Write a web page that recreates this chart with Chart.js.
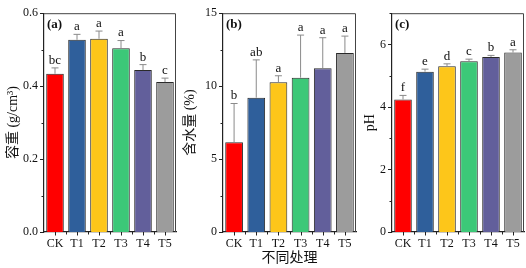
<!DOCTYPE html>
<html><head><meta charset="utf-8">
<script src="https://cdn.jsdelivr.net/npm/chart.js@4.4.1/dist/chart.umd.min.js"></script>
<style>
html,body{margin:0;padding:0;background:#fff;}
#wrap{position:relative;width:526px;height:268px;overflow:hidden;}
canvas{position:absolute;top:0;}
</style></head>
<body><div id="wrap">
<canvas id="ca" width="178" height="268" style="left:0px"></canvas>
<canvas id="cb" width="180" height="268" style="left:178px"></canvas>
<canvas id="cc" width="168" height="268" style="left:358px"></canvas>
</div>
<script>
const categories = ['CK','T1','T2','T3','T4','T5'];
const barColors = ['#ff0000','#2f5f9b','#fdc61a','#3cc878','#625f9b','#9c9c9c'];

const bulkDensity = [0.434,0.527,0.530,0.504,0.444,0.411];
const bulkDensityErr = [0.016,0.015,0.021,0.021,0.015,0.011];
const bulkLetters = ['bc','a','a','a','b','c'];
const bulkTicks = [0,0.2,0.4,0.6];

const moisture = [6.16,9.21,10.27,10.58,11.22,12.28];
const moistureErr = [2.65,2.59,0.44,2.92,2.10,1.15];
const moistureLetters = ['b','ab','a','a','a','a'];
const moistureTicks = [0,5,10,15];

const ph = [4.24,5.13,5.30,5.46,5.60,5.74];
const phErr = [0.13,0.08,0.08,0.07,0.05,0.09];
const phLetters = ['f','e','d','c','b','a'];
const phTicks = [0,2,4,6];

const SERIF = "'Liberation Serif','Noto Sans CJK SC',serif";

const decor = {
  id:'decor',
  afterDatasetsDraw(chart, args, opts){
    const ctx = chart.ctx, a = chart.chartArea;
    const xs = chart.scales.x, ys = chart.scales.y;
    ctx.save();
    ctx.strokeStyle = '#8a8a8a'; ctx.lineWidth = 1;
    const vals = chart.data.datasets[0].data;
    vals.forEach((v,i)=>{
      const x = xs.getPixelForValue(i);
      const y0 = ys.getPixelForValue(v);
      const y1 = ys.getPixelForValue(v + opts.err[i]);
      ctx.beginPath();
      ctx.moveTo(x, y0); ctx.lineTo(x, y1);
      ctx.moveTo(x-3.5, y1); ctx.lineTo(x+3.5, y1);
      ctx.stroke();
      ctx.fillStyle = '#111';
      ctx.font = "13px " + SERIF;
      ctx.textAlign = 'center'; ctx.textBaseline = 'bottom';
      ctx.fillText(opts.letters[i], x, y1 - 1);
    });
    ctx.strokeStyle = '#444'; ctx.lineWidth = 1;
    ctx.beginPath();
    ctx.moveTo(a.left, a.top+0.5); ctx.lineTo(a.right-0.5, a.top+0.5); ctx.lineTo(a.right-0.5, a.bottom);
    ctx.stroke();
    ctx.strokeStyle = '#222'; ctx.lineWidth = 1;
    ctx.beginPath();
    const tk = opts.ticks;
    const step = tk[1]-tk[0];
    for (let k=0;k<tk.length;k++){
      const y = Math.round(ys.getPixelForValue(tk[k]))+0.5;
      ctx.moveTo(a.left-4, y); ctx.lineTo(a.left, y);
      if (k < tk.length-1){
        const ym = Math.round(ys.getPixelForValue(tk[k]+step/2))+0.5;
        ctx.moveTo(a.left-2.5, ym); ctx.lineTo(a.left, ym);
      }
    }
    if (opts.top > tk[tk.length-1]) {
      const ym = Math.round(ys.getPixelForValue(tk[tk.length-1]+step/2))+0.5;
      ctx.moveTo(a.left-2.5, ym); ctx.lineTo(a.left, ym);
    }
    for (let i=0;i<vals.length;i++){
      const x = Math.round(xs.getPixelForValue(i))+0.5;
      ctx.moveTo(x, a.bottom); ctx.lineTo(x, a.bottom+3.5);
      const xb = Math.round(xs.getPixelForValue(i-0.5))+0.5;
      if (i>0){ ctx.moveTo(xb, a.bottom); ctx.lineTo(xb, a.bottom+2.5); }
    }
    ctx.stroke();
    ctx.fillStyle = '#111';
    ctx.font = "bold 13px " + SERIF;
    ctx.textAlign = 'left'; ctx.textBaseline = 'top';
    ctx.fillText(opts.label, a.left+3, a.top+5);
    ctx.restore();
  }
};

function makeChart(id, values, err, letters, ticks, top, yTitle, xTitle, label, yWidth, titlePad, fmt){
  new Chart(document.getElementById(id), {
    type:'bar',
    data:{labels:categories, datasets:[{data:values, backgroundColor:barColors, borderColor:'#2a2a2a', borderWidth:1, barPercentage:0.8, categoryPercentage:1}]},
    options:{
      responsive:false, animation:false,
      layout:{padding:{top:6,right:2,left:0,bottom:0}},
      plugins:{legend:{display:false}, tooltip:{enabled:false}, decor:{err, letters, ticks, top, label}},
      scales:{
        x:{
          grid:{display:false, drawTicks:false},
          border:{display:true, color:'#222', width:1.2},
          ticks:{color:'#111', font:{family:SERIF, size:12}, padding:5, autoSkip:false, maxRotation:0},
          title:{display:!!xTitle, text:xTitle||'', color:'#111', font:{family:SERIF, size:14}, padding:{top:0,bottom:1}},
          afterFit(s){ s.height = 36; }
        },
        y:{
          min:0, max:top,
          afterBuildTicks(s){ s.ticks = ticks.map(v=>({value:v})); },
          grid:{display:false, drawTicks:false},
          border:{display:true, color:'#222', width:1.2},
          ticks:{color:'#111', font:{family:SERIF, size:12}, padding:6, callback:(v)=>fmt(v)},
          title:{display:true, text:yTitle, color:'#111', font:{family:SERIF, size:14}, padding:{top:titlePad,bottom:0}},
          afterFit(s){ s.width = yWidth; }
        }
      }
    },
    plugins:[decor]
  });
}

makeChart('ca', bulkDensity, bulkDensityErr, bulkLetters, bulkTicks, 0.6, '容重 (g/cm³)', null, '(a)', 44, 4.5, v=>v.toFixed(1));
makeChart('cb', moisture, moistureErr, moistureLetters, moistureTicks, 15, '含水量 (%)', '不同处理', '(b)', 45, 3.5, v=>String(v));
makeChart('cc', ph, phErr, phLetters, phTicks, 7, 'pH', null, '(c)', 34, 3.5, v=>String(v));
</script>
</body></html>
